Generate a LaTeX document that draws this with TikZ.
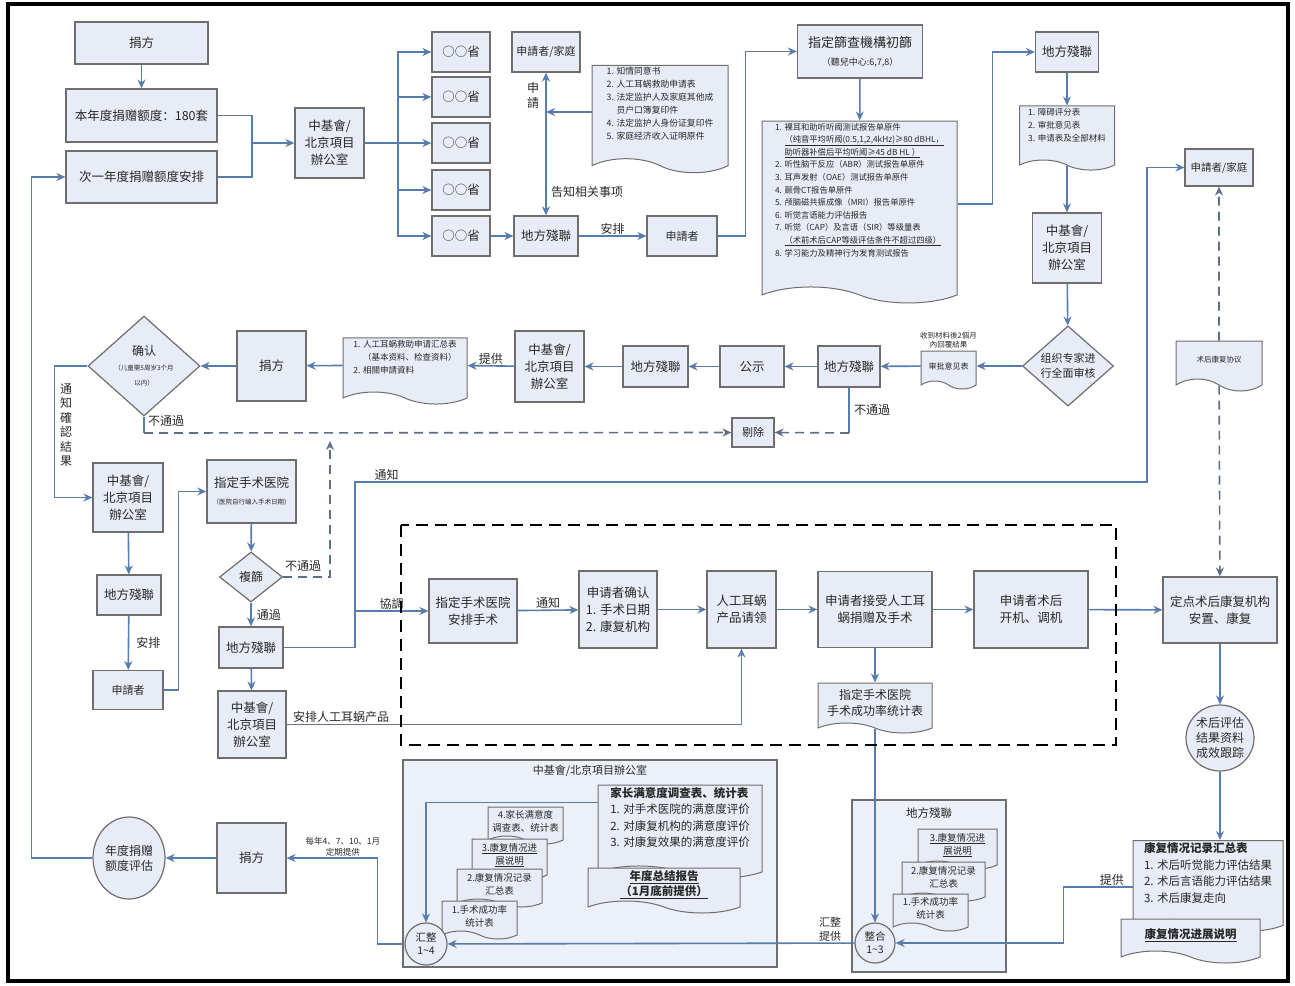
\documentclass[tikz,border=0pt]{standalone}
\usepackage{fontspec}
\setmainfont{Noto Sans CJK SC}
\usepackage{xcolor}
\usetikzlibrary{arrows.meta,positioning,shapes.geometric,shapes.symbols}
\definecolor{boxfill}{RGB}{232,236,246}
\definecolor{boxline}{RGB}{110,110,110}
\definecolor{linecol}{RGB}{88,124,172}
\definecolor{dashcol}{RGB}{95,110,135}
\definecolor{txt}{RGB}{40,40,40}
\definecolor{panelfill}{RGB}{236,240,248}
\newcommand{\tinytxt}[1]{{\fontsize{6.5}{8}\selectfont #1}}
\newcommand{\smtxt}[1]{{\fontsize{9}{11}\selectfont #1}}

\begin{document}
\begin{tikzpicture}[x=1pt, y=-1pt, thick,
  sz/.style 2 args = {minimum width=#1, minimum height=#2},
  box/.style = {draw=boxline, fill=boxfill, line width=1.2pt, align=center, inner sep=1pt, text=txt, font=\fontsize{12.5}{17}\selectfont},
  doc/.style = {tape, tape bend top=none, tape bend bottom=out and in, tape bend height=10pt, draw=boxline, fill=boxfill, line width=1pt, align=left, inner sep=2pt, text=txt, font=\fontsize{8.5}{13}\selectfont},
  choice/.style = {diamond, draw=boxline, fill=boxfill, line width=1.2pt, align=center, inner sep=0pt, text=txt, font=\fontsize{12}{15}\selectfont},
  oval/.style = {ellipse, draw=boxline, fill=boxfill, line width=1.2pt, align=center, inner sep=0pt, text=txt, font=\fontsize{12}{15}\selectfont},
  panel/.style = {draw=boxline, fill=panelfill, line width=1.2pt, inner sep=0pt},
  note/.style = {text=txt, inner sep=1pt, align=center, font=\fontsize{12}{15}\selectfont},
  link/.style = {draw=linecol, line width=1.6pt},
  flow/.style = {link, -{Stealth[length=9pt,width=8pt]}},
  twoway/.style = {link, {Stealth[length=9pt,width=8pt]}-{Stealth[length=9pt,width=8pt]}},
  cut/.style = {draw=dashcol, line width=1.6pt, dash pattern=on 9pt off 6pt, -{Stealth[length=9pt,width=8pt]}}]

\useasboundingbox (0,0) rectangle (1295,985);

% lower panels
\node[panel, sz={374}{207}, label={[note, anchor=north, yshift=-4pt, font=\fontsize{11}{13}\selectfont]north:中基會/北京項目辦公室}] (53) at (590,863.5) {};
\node[panel, sz={154}{172}, label={[note, anchor=north, yshift=-7pt, font=\fontsize{11.5}{13}\selectfont]north:地方殘聯}] (48) at (929,886) {};

% top row
\node[box, sz={133}{42}] (1) at (141.5,43) {捐方};
\node[box, sz={151}{53}] (2) at (141.5,115.5) {本年度捐赠额度：180套};
\node[box, sz={151}{52}] (3) at (141.5,177) {次一年度捐赠额度安排};
\node[box, sz={69}{70}] (4) at (329.5,143) {中基會/\\北京項目\\辦公室};
\node[box, sz={58}{40}] (5) at (461,52) {○○省};
\node[box, sz={58}{40}] (6) at (461,97) {○○省};
\node[box, sz={58}{40}] (7) at (461,143) {○○省};
\node[box, sz={58}{40}] (8) at (461,190) {○○省};
\node[box, sz={58}{40}] (9) at (461,236) {○○省};
\node[box, sz={68}{40}, font=\fontsize{11}{14}\selectfont] (10) at (546,52) {申請者/家庭};
\node[doc, sz={136}{106}, tape bend height=14pt, font=\fontsize{8.8}{13}\selectfont] (11) at (660,112) {1. 知情同意书\\2. 人工耳蜗救助申请表\\3. 法定监护人及家庭其他成\\\phantom{3. }员户口簿复印件\\4. 法定监护人身份证复印件\\5. 家庭经济收入证明原件\\\strut};
\node[box, sz={64}{40}] (12) at (546,236) {地方殘聯};
\node[box, sz={70}{40}, font=\fontsize{11}{14}\selectfont] (13) at (682,236) {申請者};
\node[box, sz={125}{53}, font=\fontsize{13}{18}\selectfont] (14) at (860,51.5) {指定篩查機構初篩\\\smtxt{（聽兒中心:6,7,8）}};
\node[doc, sz={195}{178}, tape bend height=16pt, font=\fontsize{8.3}{12.6}\selectfont] (15) at (859.5,204) {1. 裸耳和助听听阈测试报告单原件\\\phantom{1. }\underline{（纯音平均听阈(0.5,1,2,4kHz)≥80 dBHL，}\\\phantom{1. }\underline{助听器补偿后平均听阈≥45 dB HL ）}\\2. 听性脑干反应（ABR）测试报告单原件\\3. 耳声发射（OAE）测试报告单原件\\4. 颞骨CT报告单原件\\5. 颅脑磁共振成像（MRI）报告单原件\\6. 听觉言语能力评估报告\\7. 听觉（CAP）及言语（SIR）等级量表\\\phantom{7. }\underline{（术前术后CAP等级评估条件不超过四级）}\\8. 学习能力及精神行为发育测试报告\\\strut\\\strut};
\node[box, sz={63}{40}] (16) at (1067,52) {地方殘聯};
\node[doc, sz={95}{60}, tape bend height=10pt] (17) at (1067,133) {1. 障碍评分表\\2. 审批意见表\\3. 申请表及全部材料\\\strut};
\node[box, sz={69}{70}] (18) at (1067,248) {中基會/\\北京項目\\辦公室};

% review row
\node[choice, sz={91}{74}, font=\fontsize{11}{15}\selectfont] (19) at (1068,366) {组织专家进\\行全面审核};
\node[doc, sz={55}{38}, tape bend height=8pt, align=center, font=\fontsize{8}{10}\selectfont] (20) at (948.5,366) {审批意见表};
\node[note, above=1pt of 20, font=\fontsize{7.5}{9}\selectfont] {收到材料後2個月\\內回覆結果};
\node[box, sz={62}{41}] (21) at (849,366.5) {地方殘聯};
\node[box, sz={64}{41}] (22) at (752,366.5) {公示};
\node[box, sz={65}{41}] (23) at (655.5,366.5) {地方殘聯};
\node[box, sz={69}{71}] (24) at (549.5,366.5) {中基會/\\北京項目\\辦公室};
\node[doc, sz={124}{64}, tape bend height=12pt] (25) at (405,365) {1. 人工耳蜗救助申请汇总表\\\phantom{1. }（基本资料、检查资料）\\2. 相關申請資料\\\strut};
\node[box, sz={69}{70}] (26) at (271.5,366) {捐方};
\node[choice, sz={112}{74}] (27) at (144,366) {确认\\\tinytxt{（儿童需5周岁3个月}\\\tinytxt{以内）}};
\node[box, sz={42}{29}, font=\fontsize{11}{14}\selectfont] (28) at (753,432.5) {剔除};
\node[box, sz={68}{37}, font=\fontsize{10.5}{13}\selectfont] (29) at (1219,167.5) {申請者/家庭};
\node[doc, sz={86}{50}, tape bend height=12pt, align=center, font=\fontsize{7.5}{9}\selectfont] (30) at (1219,360) {术后康复协议};

% left column
\node[box, sz={70}{69}] (31) at (128,497.5) {中基會/\\北京項目\\辦公室};
\node[box, sz={64}{40}] (32) at (129,595) {地方殘聯};
\node[box, sz={70}{39}, font=\fontsize{11}{14}\selectfont] (33) at (128,690) {申請者};
\node[box, sz={89}{63}] (34) at (251.5,491.5) {指定手术医院\\\tinytxt{（医院自行编入手术日期）}};
\node[choice, sz={63}{50}] (35) at (251,577) {複篩};
\node[box, sz={64}{41}] (36) at (251,647.5) {地方殘聯};
\node[box, sz={68}{67}] (37) at (252,724.5) {中基會/\\北京項目\\辦公室};

% surgery row
\node[box, sz={88}{64}] (38) at (473,611) {指定手术医院\\安排手术};
\node[box, sz={78}{77}] (39) at (618,609.5) {申请者确认\\1. 手术日期\\2. 康复机构};
\node[box, sz={69}{77}] (40) at (741.5,609.5) {人工耳蜗\\产品请领};
\node[box, sz={114}{76}] (41) at (875,609.5) {申请者接受人工耳\\蜗捐赠及手术};
\node[box, sz={114}{77}] (42) at (1031,609.5) {申请者术后\\开机、调机};
\node[box, sz={114}{66}] (43) at (1220,610) {定点术后康复机构\\安置、康复};
\node[doc, sz={114}{50}, tape bend height=10pt, align=center, font=\fontsize{12}{16}\selectfont] (44) at (875,703) {指定手术医院\\手术成功率统计表};
\node[oval, sz={68}{66}] (45) at (1220,738) {术后评估\\结果资料\\成效跟踪};
\node[doc, sz={150}{86}, tape bend height=12pt, font=\fontsize{11.5}{16.5}\selectfont] (46) at (1208,880) {\textbf{康复情况记录汇总表}\\1. 术后听觉能力评估结果\\2. 术后言语能力评估结果\\3. 术后康复走向\\[-6pt]\strut};
\node[doc, sz={139}{44}, tape bend height=12pt, align=center, font=\fontsize{11.5}{15}\selectfont] (47) at (1190.5,935) {\textbf{\underline{康复情况进展说明}}};

% local federation docs
\node[doc, sz={79}{40}, tape bend height=8pt, align=center, font=\fontsize{9.5}{13}\selectfont] (49) at (957.5,845) {\underline{3.康复情况进}\\\underline{展说明}};
\node[doc, sz={83}{39}, tape bend height=8pt, align=center, font=\fontsize{9.5}{13}\selectfont] (50) at (943.5,877.5) {2.康复情况记录\\汇总表};
\node[doc, sz={75}{37}, tape bend height=8pt, align=center, font=\fontsize{9.5}{13}\selectfont] (51) at (930.5,908.5) {1.手术成功率\\统计表};
\node[oval, sz={40}{40}, font=\fontsize{10.5}{13}\selectfont] (52) at (875,943) {整合\\1\textasciitilde 3};

% office docs
\node[doc, sz={75}{37}, tape bend height=8pt, align=center, font=\fontsize{9.5}{13}\selectfont] (54) at (525.5,821.5) {4.家长满意度\\调查表、统计表};
\node[doc, sz={75}{40}, tape bend height=8pt, align=center, font=\fontsize{9.5}{13}\selectfont] (55) at (509.5,855) {\underline{3.康复情况进}\\\underline{展说明}};
\node[doc, sz={85}{38}, tape bend height=8pt, align=center, font=\fontsize{9.5}{13}\selectfont] (56) at (499.5,884) {2.康复情况记录\\汇总表};
\node[doc, sz={75}{38}, tape bend height=8pt, align=center, font=\fontsize{9.5}{13}\selectfont] (57) at (479.5,916) {1.手术成功率\\统计表};
\node[doc, sz={164}{89}, tape bend height=12pt, font=\fontsize{11.5}{16.5}\selectfont] (58) at (680,825.5) {\textbf{家长满意度调查表、统计表}\\1. 对手术医院的满意度评价\\2. 对康复机构的满意度评价\\3. 对康复效果的满意度评价\\[-4pt]\strut};
\node[doc, sz={152}{45}, tape bend height=12pt, align=center, font=\fontsize{11.5}{15}\selectfont] (59) at (664,884.5) {\textbf{\underline{年度总结报告}}\\\textbf{\underline{（1月底前提供）}}};
\node[oval, sz={42}{42}, font=\fontsize{10.5}{13}\selectfont] (60) at (426,944) {汇整\\1\textasciitilde 4};
\node[box, sz={69}{70}] (61) at (251.5,858) {捐方};
\node[oval, sz={72}{82}] (62) at (129,858) {年度捐赠\\额度评估};

% bends
\coordinate (j1) at (252,143);
\coordinate (j2) at (398,143);
\coordinate (a1) at (144,433);
\coordinate (a2) at (849,433);
\coordinate (a3) at (330,441);
\coordinate (b1) at (355,482);
\coordinate (b2) at (1147,482);
\coordinate (b3) at (355,611);

\draw[link] (2.east) -| (j1);
\draw[link] (3.east) -| (j1);
\draw[link] (4.east) -- (j2);
\foreach \n in {5,...,9}
  \draw[flow] (j2) |- (\n.west);
\draw[twoway] (10) -- (12);
\draw[flow] (11.west) -- (11.west -| 10.south);
\draw[flow] (13.east) -- ++(28,0) |- (14.west);
\draw[flow] (15.east) -- ++(35,0) |- (16.west);
\draw[link] (27.south) -- (a1);
\draw[cut] (a1) -- (28.west);
\draw[link] (21.south) -- (a2);
\draw[cut] (a2) -- (28.east);
\draw[cut] (35.east) -| (a3);
\draw[flow] (27.west) -- ++(-33,0) |- (31.west);
\draw[flow] (33.east) -- ++(15,0) |- (34.west);
\draw[flow] (36.east) -| (b1) -- node[note, pos=0.04, above] {通知} (b2) |- (29.west);
\draw[flow] (b3) -- node[note, above] {協調} (38.west);
\draw[flow] (37.east) -| node[note, pos=0.06, above] {安排人工耳蜗产品} (40.south);
\draw[cut] (30) -- (29);
\draw[cut] (30) -- (43);
\draw[flow] (45) -- (45 |- 46.north);
\draw[flow] ([yshift=-7pt]46.west) -- node[note, pos=0.3, above] {提供} ++(-69,0) |- (52.east);
\draw[flow] ([yshift=-18pt]58.north west) -| (60.north);
\draw[flow] (60.west) -- ++(-27,0) |- node[note, pos=0.69, above, font=\fontsize{8.5}{11}\selectfont] {每年4、7、10、1月\\定期提供} (61.east);
\draw[flow] (62.west) -- ++(-61,0) |- (3.west);

\path
  (1) edge[flow] (2)
  (j1) edge[flow] (4)
  (9) edge[flow] (12)
  (12) edge[flow] node[note, above] {安排} (13)
  (14) edge[flow] (15)
  (16) edge[flow] (17)
  (17) edge[flow] (18)
  (18) edge[flow] (19)
  (19) edge[flow] (20)
  (20) edge[flow] (21)
  (21) edge[flow] (22)
  (22) edge[flow] (23)
  (23) edge[flow] (24)
  (24) edge[flow] node[note, above] {提供} (25)
  (25) edge[flow] (26)
  (26) edge[flow] (27)
  (31) edge[flow] (32)
  (32) edge[flow] node[note, right=6pt] {安排} (33)
  (34) edge[flow] (35)
  (35) edge[flow] node[note, right=4pt] {通過} (36)
  (36) edge[flow] (37)
  (38) edge[flow] node[note, above] {通知} (39)
  (39) edge[flow] (40)
  (40) edge[flow] (41)
  (41) edge[flow] (42)
  (42) edge[flow] (43)
  (41) edge[flow] (44)
  (43) edge[flow] (45)
  (44) edge[flow] (52)
  (52) edge[flow] node[note, pos=0.06, above, font=\fontsize{11}{14}\selectfont] {汇整\\提供} (60)
  (61) edge[flow] (62)
  ;

% free labels
\node[note] at (533,95) {申\\請};
\node[note] at (587,192) {告知相关事项};
\node[note] at (872,410) {不通過};
\node[note] at (166,421) {不通過};
\node[note, font=\fontsize{12}{14.5}\selectfont] at (66,425) {通\\知\\確\\認\\結\\果};
\node[note] at (303,566) {不通過};

\draw[black, line width=2.2pt, dash pattern=on 12pt off 7pt] (401,525) rectangle (1116,745);
\draw[black, line width=4pt] (8,4) rectangle (1288,981);
\end{tikzpicture}
\end{document}
